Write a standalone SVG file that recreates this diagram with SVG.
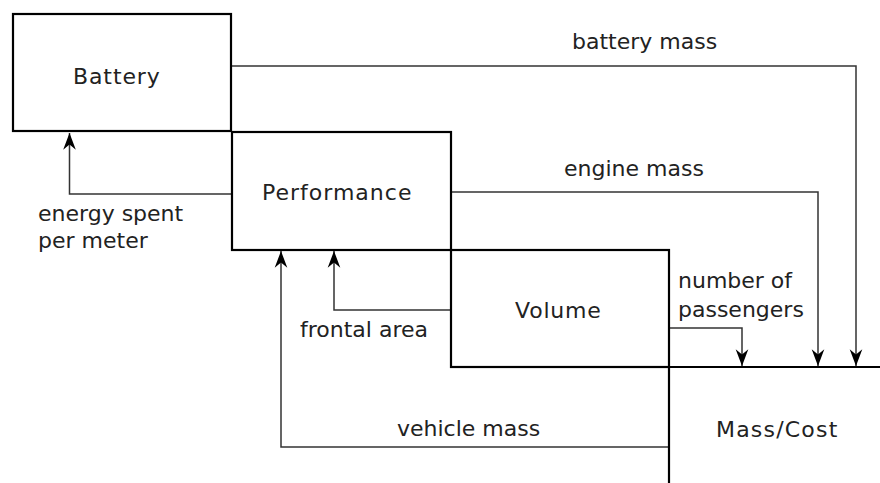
<svg xmlns="http://www.w3.org/2000/svg" width="880" height="483" viewBox="0 0 880 483">
<style>
.box{fill:none;stroke:#000;stroke-width:2.2}
.con{fill:none;stroke:#333;stroke-width:1.5}
text{font-family:"DejaVu Sans","Liberation Sans",sans-serif;font-size:22px;fill:#222}
</style>
<defs>
<marker id="arr" markerUnits="userSpaceOnUse" markerWidth="20" markerHeight="20" viewBox="-17 -8 19 16" refX="0" refY="0" orient="auto">
<path d="M0,0 L-16,-6 L-11,0 L-16,6 Z" fill="#000"/>
</marker>
</defs>
<rect width="880" height="483" fill="#fff"/>
<g id="connectors">
<polyline class="con" points="231,66 856,66 856,366" marker-end="url(#arr)"/>
<polyline class="con" points="451,192 818,192 818,366" marker-end="url(#arr)"/>
<polyline class="con" points="669,328 742,328 742,366" marker-end="url(#arr)"/>
<polyline class="con" points="233,194 69.5,194 69.5,133" marker-end="url(#arr)"/>
<polyline class="con" points="451,310 334,310 334,251" marker-end="url(#arr)"/>
<polyline class="con" points="669,447 281,447 281,251" marker-end="url(#arr)"/>
<text x="572" y="49">battery mass</text>
<text x="564" y="176">engine mass</text>
<text x="38" y="221">energy spent</text>
<text x="38" y="248">per meter</text>
<text x="300" y="337">frontal area</text>
<text x="678" y="288">number of</text>
<text x="678" y="317">passengers</text>
<text x="397" y="436">vehicle mass</text>
</g>
<g id="battery">
<rect class="box" x="13" y="14" width="218" height="117"/>
<text x="73" y="84" letter-spacing="0.9">Battery</text>
</g>
<g id="performance">
<rect class="box" x="232" y="132" width="219" height="118"/>
<text x="262" y="200" letter-spacing="1">Performance</text>
</g>
<g id="volume">
<rect class="box" x="451" y="250" width="218" height="117"/>
<text x="515" y="318" letter-spacing="0.8">Volume</text>
</g>
<g id="masscost">
<path class="box" d="M669,483 L669,367 L880,367"/>
<text x="716" y="437" letter-spacing="1.2">Mass/Cost</text>
</g>
</svg>
